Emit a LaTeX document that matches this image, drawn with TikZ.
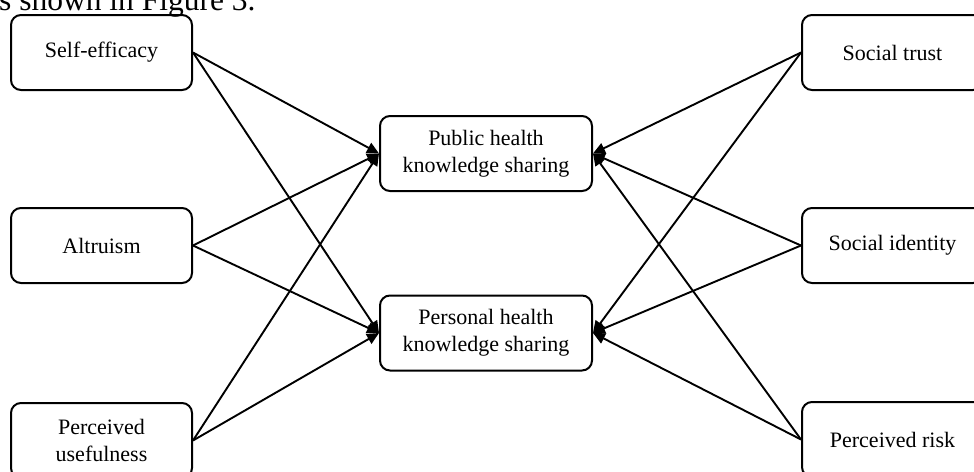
\documentclass[tikz,border=0pt]{standalone}
\usepackage{fontspec}
\setmainfont{Liberation Serif}
\usetikzlibrary{arrows.meta}
\begin{document}
\begin{tikzpicture}[x=1pt,y=-1pt,
  box/.style={draw, line width=2pt, rounded corners=10pt, align=center,
    minimum width=181pt, minimum height=75pt, inner sep=0pt,
    font=\fontsize{22}{27}\selectfont},
  midbox/.style={box, minimum width=212pt},
  arr/.style={line width=1.9pt, -{Triangle[length=12pt,width=11pt]}}]
\useasboundingbox (0,0) rectangle (974,471);
\clip (0,0) rectangle (974,471);
\node[anchor=base west, inner sep=0pt, font=\fontsize{31.5}{36}\selectfont] (cap) at (-1,10) {s shown in Figure 3.};
\node[box] (se) at (101.5,52.5) {Self-efficacy};
\node[box] (al) at (101.5,245.5) {Altruism};
\node[box] (pu) at (101.5,440.5) {Perceived\\usefulness};
\node[midbox] (pub) at (486,153.5) {Public health\\knowledge sharing};
\node[midbox] (per) at (486,333) {Personal health\\knowledge sharing};
\node[box] (st) at (892.5,52.5) {Social trust};
\node[box] (si) at (892.5,245.5) {Social identity};
\node[box] (pr) at (892.5,439.5) {Perceived risk};
\foreach \s in {se,al,pu}{
  \draw[arr] (\s.east) -- (pub.west);
  \draw[arr] (\s.east) -- (per.west);
}
\foreach \s in {st,si,pr}{
  \draw[arr] (\s.west) -- (pub.east);
  \draw[arr] (\s.west) -- (per.east);
}
\end{tikzpicture}
\end{document}
